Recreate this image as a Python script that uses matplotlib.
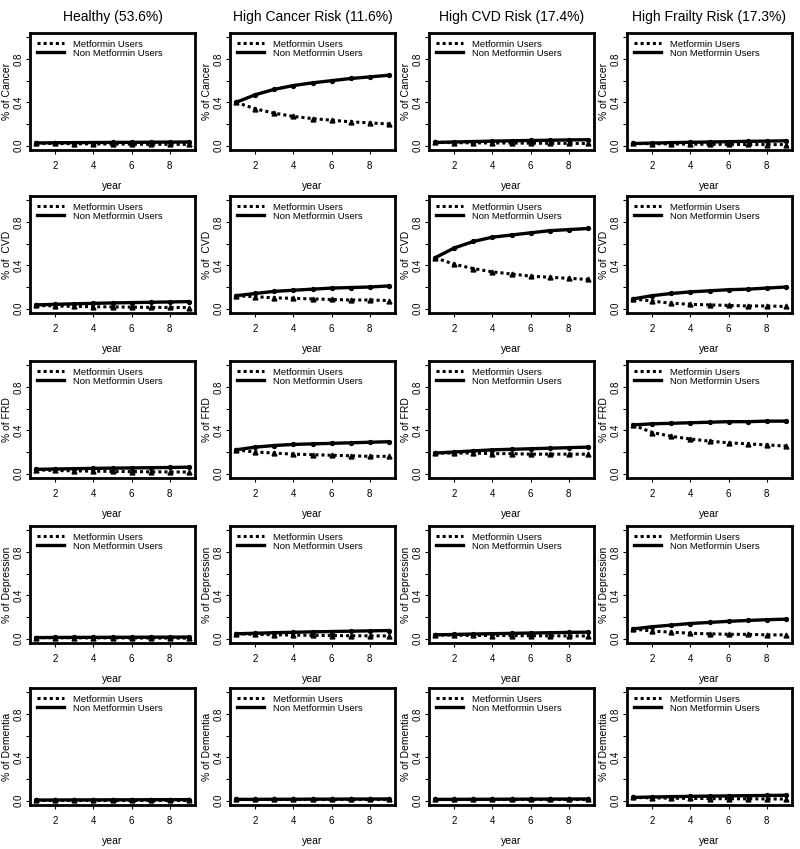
import matplotlib
matplotlib.use("Agg")
import matplotlib.pyplot as plt
import numpy as np

plt.rcParams['font.family'] = ['Liberation Sans', 'DejaVu Sans']

years = [1, 2, 3, 4, 5, 6, 7, 8, 9]
groups = ["Healthy (53.6%)", "High Cancer Risk (11.6%)", "High CVD Risk (17.4%)", "High Frailty Risk (17.3%)"]
outcomes = ["Cancer", "CVD", "FRD", "Depression", "Dementia"]
ylabels = ["% of Cancer", "% of  CVD", "% of FRD", "% of Depression", "% of Dementia"]
legend_labels = ["Metformin Users", "Non Metformin Users"]
yticks = [0.0, 0.2, 0.4, 0.6, 0.8, 1.0]
ytick_labels = ["0.0", "", "0.4", "", "0.8", ""]
xticks = [2, 4, 6, 8]

# Non-metformin users (solid) per outcome, per group
non_cancer = [
    [0.025, 0.027, 0.028, 0.029, 0.030, 0.031, 0.032, 0.033, 0.034],
    [0.40, 0.47, 0.52, 0.555, 0.58, 0.60, 0.62, 0.635, 0.65],
    [0.030, 0.034, 0.038, 0.042, 0.045, 0.048, 0.050, 0.053, 0.055],
    [0.020, 0.024, 0.028, 0.031, 0.034, 0.037, 0.040, 0.042, 0.045],
]
met_cancer = [
    [0.022, 0.020, 0.018, 0.016, 0.015, 0.014, 0.013, 0.012, 0.012],
    [0.40, 0.34, 0.30, 0.27, 0.25, 0.235, 0.22, 0.21, 0.20],
    [0.030, 0.028, 0.026, 0.025, 0.024, 0.023, 0.022, 0.021, 0.020],
    [0.020, 0.018, 0.016, 0.014, 0.013, 0.012, 0.011, 0.010, 0.010],
]
non_cvd = [
    [0.035, 0.040, 0.045, 0.049, 0.053, 0.056, 0.059, 0.062, 0.065],
    [0.12, 0.14, 0.16, 0.17, 0.18, 0.19, 0.195, 0.20, 0.21],
    [0.47, 0.56, 0.62, 0.66, 0.68, 0.70, 0.72, 0.73, 0.74],
    [0.09, 0.12, 0.14, 0.155, 0.165, 0.175, 0.18, 0.19, 0.20],
]
met_cvd = [
    [0.030, 0.025, 0.021, 0.018, 0.016, 0.014, 0.012, 0.011, 0.010],
    [0.12, 0.11, 0.10, 0.095, 0.09, 0.085, 0.08, 0.08, 0.075],
    [0.47, 0.41, 0.37, 0.34, 0.32, 0.30, 0.29, 0.28, 0.27],
    [0.09, 0.07, 0.05, 0.04, 0.035, 0.03, 0.025, 0.025, 0.02],
]
non_frd = [
    [0.040, 0.043, 0.046, 0.049, 0.051, 0.053, 0.055, 0.057, 0.060],
    [0.22, 0.245, 0.26, 0.27, 0.275, 0.28, 0.285, 0.29, 0.295],
    [0.19, 0.20, 0.21, 0.22, 0.225, 0.23, 0.235, 0.24, 0.245],
    [0.45, 0.46, 0.465, 0.47, 0.475, 0.48, 0.48, 0.485, 0.485],
]
met_frd = [
    [0.035, 0.030, 0.026, 0.023, 0.021, 0.019, 0.017, 0.016, 0.015],
    [0.22, 0.20, 0.19, 0.18, 0.175, 0.17, 0.165, 0.16, 0.16],
    [0.19, 0.19, 0.19, 0.185, 0.185, 0.18, 0.18, 0.18, 0.18],
    [0.45, 0.38, 0.345, 0.32, 0.30, 0.285, 0.275, 0.265, 0.255],
]
non_dep = [
    [0.010, 0.011, 0.012, 0.012, 0.013, 0.013, 0.014, 0.014, 0.015],
    [0.045, 0.050, 0.055, 0.059, 0.063, 0.066, 0.069, 0.072, 0.075],
    [0.035, 0.039, 0.043, 0.046, 0.049, 0.052, 0.055, 0.058, 0.060],
    [0.09, 0.11, 0.125, 0.14, 0.15, 0.16, 0.168, 0.175, 0.18],
]
met_dep = [
    [0.010, 0.009, 0.008, 0.007, 0.007, 0.006, 0.006, 0.005, 0.005],
    [0.045, 0.040, 0.036, 0.033, 0.031, 0.029, 0.027, 0.026, 0.025],
    [0.035, 0.032, 0.030, 0.029, 0.028, 0.027, 0.026, 0.025, 0.025],
    [0.09, 0.07, 0.06, 0.05, 0.045, 0.04, 0.04, 0.035, 0.035],
]
non_dem = [
    [0.006, 0.006, 0.007, 0.007, 0.008, 0.008, 0.009, 0.009, 0.010],
    [0.012, 0.012, 0.013, 0.013, 0.014, 0.014, 0.015, 0.015, 0.016],
    [0.012, 0.012, 0.013, 0.013, 0.014, 0.014, 0.015, 0.015, 0.016],
    [0.030, 0.034, 0.037, 0.040, 0.042, 0.044, 0.046, 0.048, 0.050],
]
met_dem = [
    [0.006, 0.006, 0.006, 0.006, 0.006, 0.006, 0.006, 0.006, 0.006],
    [0.012, 0.012, 0.012, 0.012, 0.012, 0.012, 0.012, 0.012, 0.012],
    [0.012, 0.012, 0.012, 0.012, 0.012, 0.012, 0.012, 0.012, 0.012],
    [0.030, 0.026, 0.023, 0.021, 0.019, 0.018, 0.017, 0.016, 0.015],
]

non_all = [non_cancer, non_cvd, non_frd, non_dep, non_dem]
met_all = [met_cancer, met_cvd, met_frd, met_dep, met_dem]

W, H = 800, 849
fig = plt.figure(figsize=(W / 100, H / 100), dpi=100)

col_left = [30, 230, 429, 627]
row_top = [33, 196, 361, 526, 688]
aw, ah = 165, 117

for r in range(5):
    for c in range(4):
        ax = fig.add_axes([col_left[c] / W, 1 - (row_top[r] + ah) / H, aw / W, ah / H])
        ax.plot(years, met_all[r][c], color='black', lw=2.2, linestyle=(0, (1, 1.0)),
                marker='^', markersize=3.5, dash_capstyle='butt', label=legend_labels[0])
        ax.plot(years, non_all[r][c], color='black', lw=2.4, linestyle='-',
                marker='o', markersize=2.8, label=legend_labels[1])
        ax.set_xlim(0.68, 9.32)
        ax.set_ylim(-0.04, 1.04)
        ax.set_xticks(xticks)
        ax.set_yticks(yticks)
        ax.set_yticklabels(ytick_labels, rotation=90, va='center')
        ax.tick_params(axis='both', labelsize=7, length=3, width=0.8, direction='out')
        ax.tick_params(axis='y', pad=1.5)
        ax.tick_params(axis='x', pad=5)
        for sp in ax.spines.values():
            sp.set_linewidth(2.0)
        ax.set_xlabel("year", fontsize=7.5, labelpad=7)
        ax.set_ylabel(ylabels[r], fontsize=7.5, labelpad=1)
        if r == 0:
            ax.set_title(groups[c], fontsize=10, pad=9)
        leg = ax.legend(loc='upper left', frameon=False, fontsize=6.8, handlelength=2.9,
                        handletextpad=1.0, borderaxespad=0.45, borderpad=0.25,
                        labelspacing=0.0)
        for h in leg.legend_handles:
            h.set_marker('')

fig.savefig("out.png", dpi=100)
